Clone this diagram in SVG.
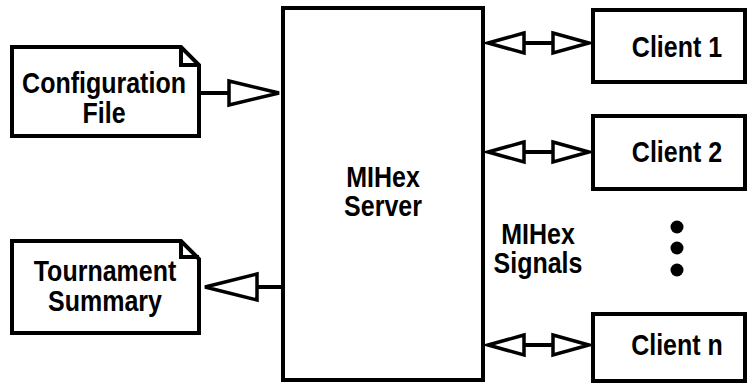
<svg xmlns="http://www.w3.org/2000/svg" width="749" height="385" viewBox="0 0 749 385">
<style>
.box{fill:#fff;stroke:#000;stroke-width:4;stroke-linejoin:miter}
.ln{fill:none;stroke:#000;stroke-width:4}
.ah{fill:#fff;stroke:#000;stroke-width:3.5;stroke-linejoin:miter}
text{font-family:"Liberation Sans",Arial,sans-serif;font-weight:bold;font-size:25px;fill:#000;text-anchor:middle}
</style>
<g id="server">
<rect class="box" x="283" y="8" width="200" height="372"/>
<text transform="matrix(1 0 0 1.15 383 187)">MIHex</text>
<text transform="matrix(1 0 0 1.15 383 216)">Server</text>
</g>
<g id="config">
<path class="box" d="M12 47 H181 L199 65 V136 H12 Z"/>
<path class="ln" d="M181 47 V65 H199"/>
<text transform="matrix(1 0 0 1.15 104 93)">Configuration</text>
<text transform="matrix(1 0 0 1.15 104 123)">File</text>
</g>
<g id="summary">
<path class="box" d="M12 241 H181 L199 259 V333 H12 Z"/>
<path class="ln" d="M181 241 V257 H199"/>
<text transform="matrix(1 0 0 1.15 105 281)">Tournament</text>
<text transform="matrix(1 0 0 1.15 105 311)">Summary</text>
</g>
<g id="client1">
<rect class="box" x="593" y="10" width="152" height="72"/>
<text transform="matrix(1 0 0 1.15 677 57)">Client 1</text>
</g>
<g id="client2">
<rect class="box" x="593" y="116" width="152" height="73"/>
<text transform="matrix(1 0 0 1.15 677 162)">Client 2</text>
</g>
<g id="clientn">
<rect class="box" x="593" y="314" width="152" height="67"/>
<text transform="matrix(1 0 0 1.15 677 355)">Client n</text>
</g>
<g id="dots">
<circle cx="677" cy="227" r="6.5"/>
<circle cx="677" cy="248" r="6.5"/>
<circle cx="677" cy="270" r="6.5"/>
</g>
<g id="signals-label">
<text transform="matrix(1 0 0 1.15 538 244)">MIHex</text>
<text transform="matrix(1 0 0 1.15 538 273)">Signals</text>
</g>
<g id="connectors">
<line class="ln" x1="200" y1="93" x2="229" y2="93"/>
<path class="ah" d="M229 81 L279 93 L229 105 Z"/>
<line class="ln" x1="283" y1="287" x2="257" y2="287"/>
<path class="ah" d="M257 274 L205 287 L257 300 Z"/>
<g id="c1">
<line class="ln" x1="524" y1="43" x2="553" y2="43"/>
<path class="ah" d="M524 33 L488 43 L524 53 Z"/>
<path class="ah" d="M553 33 L589 43 L553 53 Z"/>
</g>
<g id="c2">
<line class="ln" x1="524" y1="152" x2="553" y2="152"/>
<path class="ah" d="M524 142 L488 152 L524 162 Z"/>
<path class="ah" d="M553 142 L589 152 L553 162 Z"/>
</g>
<g id="cn">
<line class="ln" x1="524" y1="345" x2="553" y2="345"/>
<path class="ah" d="M524 335 L488 345 L524 355 Z"/>
<path class="ah" d="M553 335 L589 345 L553 355 Z"/>
</g>
</g>
</svg>
